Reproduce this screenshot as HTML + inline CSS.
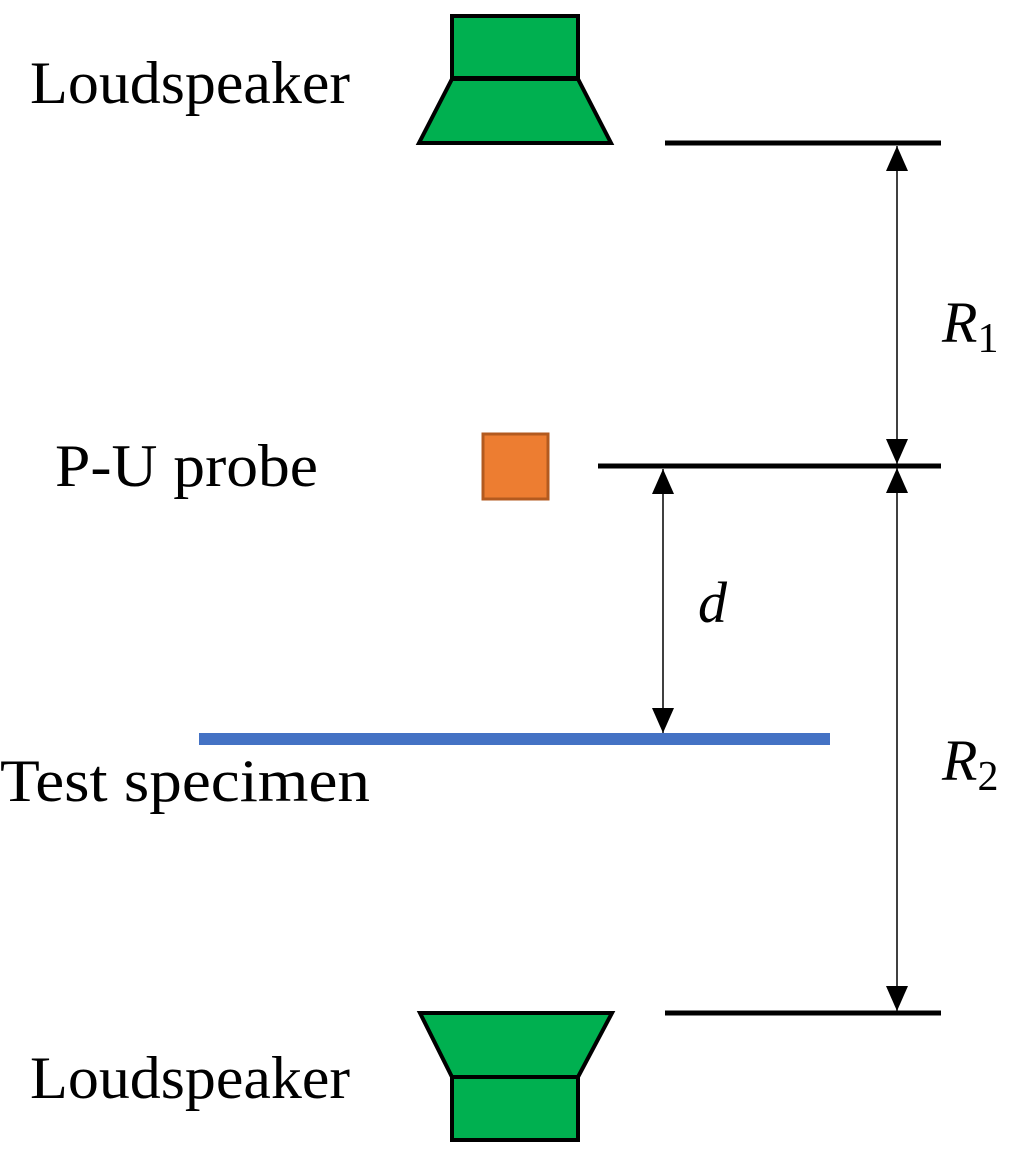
<!DOCTYPE html>
<html><head><style>body{margin:0;background:#fff}</style></head><body>
<svg width="1020" height="1160" xmlns="http://www.w3.org/2000/svg" style="display:block">
<defs>
<marker id="a" viewBox="0 0 10 10" refX="10" refY="5" markerWidth="25" markerHeight="22" markerUnits="userSpaceOnUse" orient="auto-start-reverse" preserveAspectRatio="none"><path d="M0,0L10,5L0,10z" fill="#000"/></marker>
</defs>
<g stroke="#000" stroke-width="4" fill="#00b050" stroke-linejoin="miter">
<rect x="452" y="16" width="126" height="62"/>
<polygon points="452,79 578,79 611,143 419,143"/>
<polygon points="420,1013 612,1013 578,1077 452,1077"/>
<rect x="452" y="1077" width="126" height="63"/>
</g>
<rect x="483" y="434" width="65" height="65" fill="#ed7d31" stroke="#b35a1f" stroke-width="3"/>
<g stroke="#000" stroke-width="5">
<line x1="665" y1="143" x2="941" y2="143"/>
<line x1="598" y1="466" x2="941" y2="466"/>
<line x1="665" y1="1013" x2="941" y2="1013"/>
</g>
<line x1="199" y1="739" x2="830" y2="739" stroke="#4472c4" stroke-width="12"/>
<g stroke="#000" stroke-width="1.5">
<line x1="897" y1="146" x2="897" y2="464" marker-start="url(#a)" marker-end="url(#a)"/>
<line x1="897" y1="468" x2="897" y2="1011" marker-start="url(#a)" marker-end="url(#a)"/>
<line x1="663" y1="469" x2="663" y2="733" marker-start="url(#a)" marker-end="url(#a)"/>
</g>
<g font-family="Liberation Serif, serif" font-size="60" fill="#000">
<text x="30" y="103" textLength="320" lengthAdjust="spacingAndGlyphs">Loudspeaker</text>
<text x="55" y="486" textLength="263" lengthAdjust="spacingAndGlyphs">P-U probe</text>
<text x="0" y="801" textLength="370" lengthAdjust="spacingAndGlyphs">Test specimen</text>
<text x="30" y="1098" textLength="320" lengthAdjust="spacingAndGlyphs">Loudspeaker</text>
<text x="942" y="342" font-size="58" font-style="italic">R<tspan font-style="normal" font-size="42" dy="10">1</tspan></text>
<text x="942" y="780" font-size="58" font-style="italic">R<tspan font-style="normal" font-size="42" dy="10">2</tspan></text>
<text x="698" y="622" font-size="58" font-style="italic">d</text>
</g>
</svg>
</body></html>
